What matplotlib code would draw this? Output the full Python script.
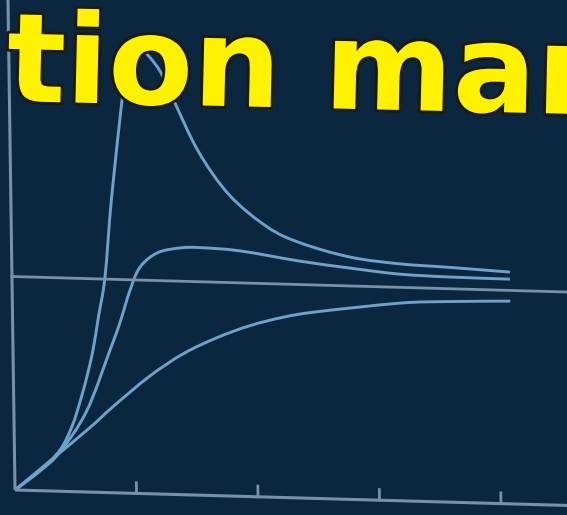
import numpy as np
import matplotlib.pyplot as plt
from matplotlib.transforms import Affine2D
from matplotlib.path import Path
from matplotlib.patches import PathPatch
import matplotlib.patheffects as pe

# response curves (time, response)
t_a = [0, 0.21, 0.375, 0.48, 0.55, 0.61, 0.66, 0.71, 0.766, 0.83, 0.93, 0.97, 1.03,
       1.105, 1.24, 1.35, 1.55, 1.80, 2.11, 2.38, 2.79, 3.20, 3.61, 4.10]
v_a = [0, 0.097, 0.193, 0.31, 0.43, 0.55, 0.67, 0.83, 1.01, 1.385, 1.855, 2.03, 2.11,
       2.08, 1.985, 1.85, 1.61, 1.41, 1.265, 1.195, 1.135, 1.11, 1.10, 1.086]

t_b = [0, 0.21, 0.375, 0.60, 0.80, 0.885, 0.97, 1.055, 1.20, 1.39, 1.55, 1.88,
       2.37, 2.78, 3.19, 3.61, 4.10]
v_b = [0, 0.093, 0.184, 0.38, 0.67, 0.80, 0.95, 1.06, 1.13, 1.156, 1.16, 1.15,
       1.11, 1.084, 1.062, 1.055, 1.053]

t_c = [0, 0.29, 0.62, 0.82, 1.12, 1.40, 1.68, 1.95, 2.23, 2.51, 3.19, 3.60, 4.10]
v_c = [0, 0.14, 0.30, 0.405, 0.55, 0.66, 0.74, 0.80, 0.845, 0.875, 0.926, 0.94, 0.95]

setpoint = 1.0
tick_times = [1, 2, 3, 4]
title_text = "tion mar"

bg = '#0b2740'
curve_col = '#6ea2ca'
axis_col = '#7890aa'


def smooth_path(t, v):
    # catmull-rom through the read points, drawn as cubic bezier segments
    p = np.column_stack([t, v])
    p = np.vstack([p[0], p, p[-1]])
    verts = [p[1]]
    codes = [Path.MOVETO]
    for i in range(1, len(p) - 2):
        c1 = p[i] + (p[i + 1] - p[i - 1]) / 6
        c2 = p[i + 1] - (p[i + 2] - p[i]) / 6
        verts += [c1, c2, p[i + 1]]
        codes += [Path.CURVE4] * 3
    return Path(verts, codes)


fig = plt.figure(figsize=(5.67, 5.15), dpi=100, facecolor=bg)
ax = fig.add_axes([0, 0, 1, 1])
ax.set_facecolor(bg)
ax.set_xlim(0, 567)
ax.set_ylim(515, 0)
ax.axis('off')

# slide photo is slightly skewed, so map (t, v) to the picture with an affine transform
skew = Affine2D(np.array([[121.5, -3.05, 15.0],
                          [3.4, -213.5, 490.0],
                          [0.0, 0.0, 1.0]])) + ax.transData

# axes
ax.plot([0, 0], [0, 2.4], color=axis_col, lw=2.2, transform=skew, solid_capstyle='butt')
ax.plot([0, 4.7], [0, 0], color=axis_col, lw=2.2, transform=skew, solid_capstyle='butt')
for tt in tick_times:
    ax.plot([tt, tt], [0, 0.05], color=axis_col, lw=2.0, transform=skew)

# setpoint line
ax.plot([0, 4.7], [setpoint, setpoint], color=axis_col, lw=2.0, transform=skew)

for t, v in [(t_a, v_a), (t_b, v_b), (t_c, v_c)]:
    ax.add_patch(PathPatch(smooth_path(t, v), facecolor='none', edgecolor=curve_col,
                           lw=2.1, transform=skew, capstyle='butt', joinstyle='round'))

ax.text(6, 101, title_text, fontsize=89, fontweight='bold', family='DejaVu Sans',
        color='#fff200', ha='left', va='baseline', rotation=-1.3,
        rotation_mode='anchor', zorder=5,
        path_effects=[pe.withStroke(linewidth=4, foreground='#1c1a08')])

fig.savefig('out.png', dpi=100, facecolor=bg)
